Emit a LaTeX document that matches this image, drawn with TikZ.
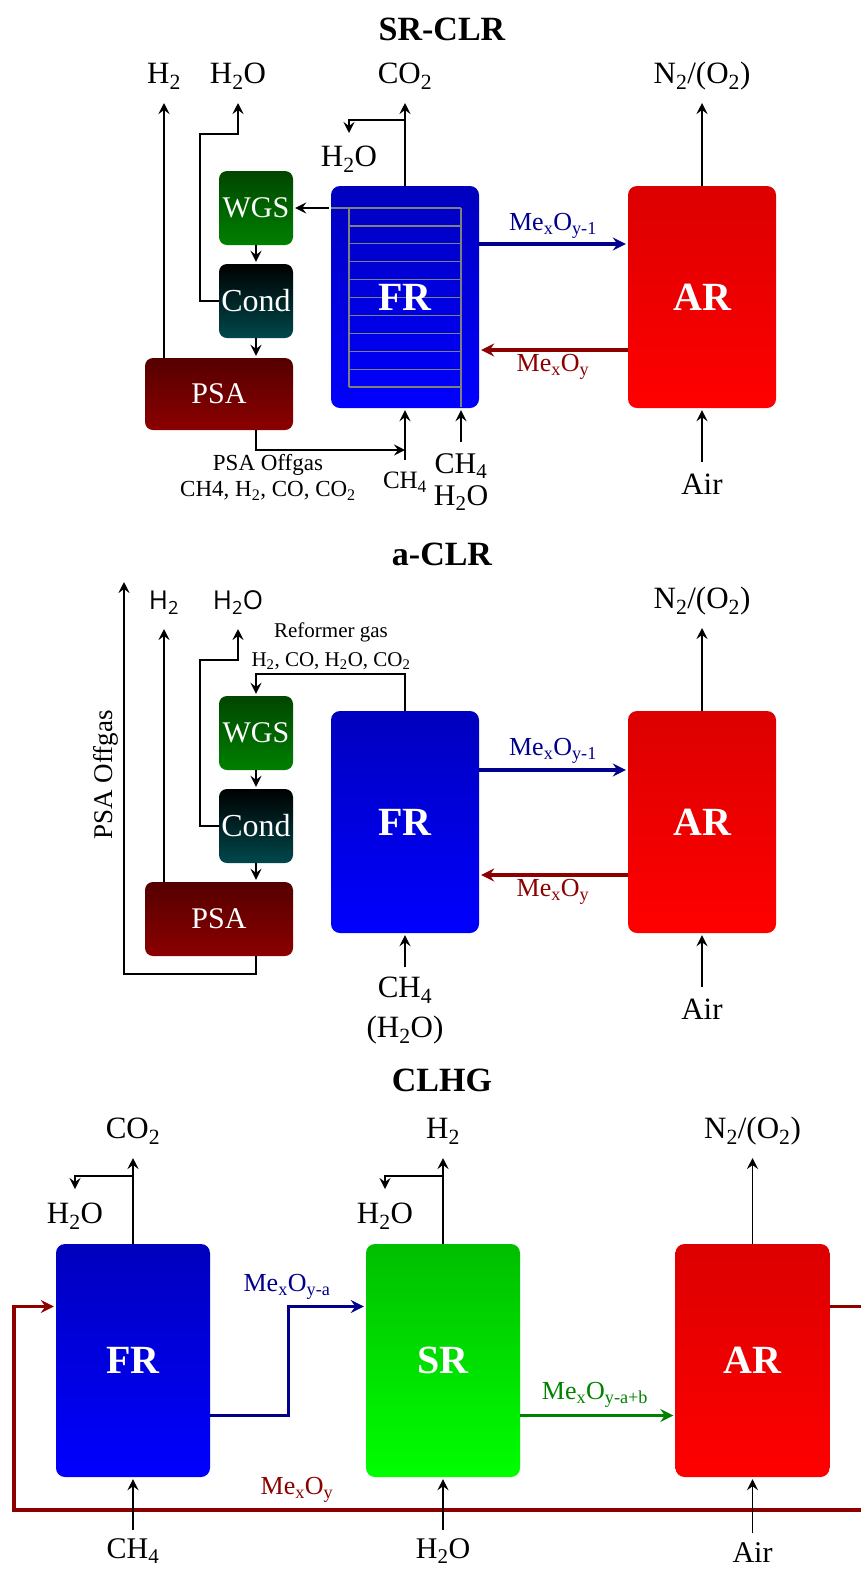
\documentclass[tikz,border=0pt]{standalone}
\usepackage{fontspec}
\setmainfont{Liberation Serif}
\newfontfamily\labelsans{Open Sans}
\usetikzlibrary{arrows.meta}

\begin{document}
\begin{tikzpicture}[
  x=1pt,
  y=-1pt,
  >={Stealth[length=11pt,width=11pt,inset=4pt]},
  unitbox/.style={
    rounded corners=8pt,
    draw=none,
    inner sep=0pt,
    text=white,
    font=\fontsize{30}{34}\selectfont
  },
  reactor/.style={
    rounded corners=9pt,
    draw=none,
    inner sep=0pt,
    minimum width=148pt,
    minimum height=222pt
  },
  widereactor/.style={
    reactor,
    minimum width=154pt,
    minimum height=233pt
  },
  reactortext/.style={
    text=white,
    inner sep=0pt,
    font=\bfseries\fontsize{40}{44}\selectfont
  },
  title/.style={font=\bfseries\fontsize{34}{38}\selectfont,inner sep=0pt},
  gasout/.style={
    anchor=south,
    font=\fontsize{31}{36}\selectfont,
    text depth=6pt,
    inner ysep=11pt,
    inner xsep=0pt
  },
  gasin/.style={
    anchor=north,
    font=\fontsize{31}{36}\selectfont,
    align=center,
    inner ysep=10pt,
    inner xsep=0pt
  },
  gasbottom/.style={
    gasin,
    font=\fontsize{30}{34}\selectfont,
    inner ysep=0pt
  },
  note/.style={font=\fontsize{23}{26}\selectfont,inner sep=0pt},
  smallnote/.style={note,font=\fontsize{21}{26}\selectfont},
  metal/.style={font=\fontsize{26}{28}\selectfont,inner sep=0pt},
  flow/.style={->,line width=1.8pt,draw=black,shorten >=2pt},
  metalflow/.style={
    flow,
    >={Stealth[length=13pt,width=13pt,inset=4.5pt]},
    line width=3.4pt
  },
  blueflow/.style={metalflow,draw=metalblue},
  redflow/.style={metalflow,draw=metalred},
  greenflow/.style={metalflow,draw=metalgreen},
  trayline/.style={draw=gray,line width=1.2pt}
]
  \definecolor{metalblue}{RGB}{0,0,140}
  \definecolor{metalred}{RGB}{140,0,0}
  \definecolor{metalgreen}{RGB}{0,130,0}
  \tikzset{
    wgsfill/.style={top color={rgb,255:red,0;green,70;blue,0},bottom color={rgb,255:red,0;green,128;blue,0}},
    condfill/.style={top color=black,bottom color={rgb,255:red,0;green,72;blue,76}},
    psafill/.style={top color={rgb,255:red,85;green,0;blue,0},bottom color={rgb,255:red,140;green,0;blue,0}},
    frfill/.style={top color={rgb,255:red,0;green,0;blue,190},bottom color={rgb,255:red,0;green,0;blue,255}},
    srfill/.style={top color={rgb,255:red,0;green,190;blue,0},bottom color={rgb,255:red,0;green,255;blue,0}},
    arfill/.style={top color={rgb,255:red,220;green,0;blue,0},bottom color={rgb,255:red,255;green,0;blue,0}}
  }
  \path[use as bounding box,clip] (0,0) rectangle (861,1569);

  % SR-CLR.
  \node[title] (titlea) at (442,29) {SR-CLR};
  \node[unitbox,wgsfill,minimum width=74pt,minimum height=74pt] (wgsa) at (256,208) {WGS};
  \node[unitbox,condfill,minimum width=74pt,minimum height=74pt,font=\fontsize{32}{36}\selectfont] (conda) at (256,301) {Cond};
  \node[unitbox,psafill,minimum width=148pt,minimum height=72pt] (psaa) at (219,394) {PSA};
  \node[reactor,frfill] (fra) at (405,297) {};
  \node[reactor,arfill] (ara) at (702,297) {};

  \foreach \trayy in {208,225.9,243.8,261.7,279.6,297.5,315.4,333.3,351.2,369.1,387}
    \draw[trayline] (349,\trayy) -- (461,\trayy);
  \draw[trayline] (fra.west |- 0,208) -- (349,208) -- (349,387);
  \draw[trayline] (461,208) -- (461,407);

  \node[reactortext] (fratext) at (fra.center) {FR};
  \node[reactortext] (aratext) at (ara.center) {AR};

  \node[gasout] (h2a) at (164,101) {H\textsubscript{2}};
  \node[gasout] (h2oa) at (238,101) {H\textsubscript{2}O};
  \node[gasout] (co2a) at (405,101) {CO\textsubscript{2}};
  \node[gasout] (n2a) at (702,101) {N\textsubscript{2}/(O\textsubscript{2})};
  \node[gasin,inner ysep=11pt] (h2ofra) at (349,135) {H\textsubscript{2}O};
  \node[gasin,font=\fontsize{25}{28}\selectfont,inner ysep=12pt] (ch4ina) at (405,460) {CH\textsubscript{4}};
  \node[gasin,font=\fontsize{30}{32}\selectfont,inner ysep=11pt] (ch4inb) at (461,442) {CH\textsubscript{4}\\H\textsubscript{2}O};
  \node[gasin,inner ysep=12pt] (aira) at (702,462) {Air};
  \node[note] (offgasa) at (268,465) {PSA Offgas};
  \node[note] (offgasb) at (268,491) {CH4, H\textsubscript{2}, CO, CO\textsubscript{2}};
  \node[metal,text=metalblue] (mexa) at (553,226) {Me\textsubscript{x}O\textsubscript{y-1}};
  \node[metal,text=metalred] (mexb) at (553,367) {Me\textsubscript{x}O\textsubscript{y}};
  \coordinate (co2splita) at (405,120);
  \coordinate (offgasjoina) at (405,450);

  \draw[flow] (fra.north) -- (co2a.south);
  \draw[flow] (co2splita) -| (h2ofra.north);
  \draw[flow,shorten <=2pt] (fra.west |- wgsa.east) -- (wgsa.east);
  \draw[flow] (wgsa.south) -- (conda.north);
  \draw[flow] (conda.south) -- (conda.south |- psaa.north);
  \draw[flow] (h2a.south |- psaa.north) -- (h2a.south);
  \draw[flow] (conda.west) -- ++(-19,0) -- ++(0,-167) -| (h2oa.south);
  \draw[flow,shorten >=0pt] (conda.south |- psaa.south) |- (offgasjoina);
  \draw[flow] (ch4ina.north) -- (fra.south);
  \draw[flow] (ch4inb.north) -- (ch4inb.north |- fra.south);
  \draw[flow] (ara.north) -- (n2a.south);
  \draw[flow] (aira.north) -- (ara.south);
  \draw[blueflow] ([yshift=53pt]fra.east) -- ([yshift=53pt]ara.west);
  \draw[redflow] ([yshift=-53pt]ara.west) -- ([yshift=-53pt]fra.east);

  % a-CLR.
  \node[title] (titleb) at (442,554) {a-CLR};
  \node[unitbox,wgsfill,minimum width=74pt,minimum height=74pt] (wgsb) at (256,733) {WGS};
  \node[unitbox,condfill,minimum width=74pt,minimum height=74pt,font=\fontsize{32}{36}\selectfont] (condb) at (256,826) {Cond};
  \node[unitbox,psafill,minimum width=148pt,minimum height=74pt] (psab) at (219,919) {PSA};
  \node[reactor,frfill] (frb) at (405,822) {};
  \node[reactor,arfill] (arb) at (702,822) {};
  \node[reactortext] (frbtext) at (frb.center) {FR};
  \node[reactortext] (arbtext) at (arb.center) {AR};

  \node[gasout,font=\labelsans\fontsize{26}{30}\selectfont] (h2b) at (164,627) {H\textsubscript{2}};
  \node[gasout,font=\labelsans\fontsize{26}{30}\selectfont] (h2ob) at (238,627) {H\textsubscript{2}O};
  \node[gasout] (n2b) at (702,626) {N\textsubscript{2}/(O\textsubscript{2})};
  \node[gasin] (ch4inc) at (405,967) {CH\textsubscript{4}\\[4pt](H\textsubscript{2}O)};
  \node[gasin,inner ysep=12pt] (airb) at (702,987) {Air};
  \node[smallnote] (reformera) at (331,632) {Reformer gas};
  \node[smallnote] (reformerb) at (331,661) {H\textsubscript{2}, CO, H\textsubscript{2}O, CO\textsubscript{2}};
  \node[font=\fontsize{27}{30}\selectfont,inner sep=0pt,rotate=90] (offgasc) at (106,775) {PSA Offgas};
  \node[metal,text=metalblue] (mexc) at (553,751) {Me\textsubscript{x}O\textsubscript{y-1}};
  \node[metal,text=metalred] (mexd) at (553,892) {Me\textsubscript{x}O\textsubscript{y}};
  \coordinate (offgastop) at (124,580);

  \draw[flow] (frb.north) -- ++(0,-37) -| (wgsb.north);
  \draw[flow] (wgsb.south) -- (condb.north);
  \draw[flow] (condb.south) -- (condb.south |- psab.north);
  \draw[flow] (h2b.south |- psab.north) -- (h2b.south);
  \draw[flow] (condb.west) -- ++(-19,0) -- ++(0,-166) -| (h2ob.south);
  \draw[flow] (condb.south |- psab.south) -- ++(0,18) -| (offgastop);
  \draw[flow] (ch4inc.north) -- (frb.south);
  \draw[flow] (arb.north) -- (n2b.south);
  \draw[flow] (airb.north) -- (arb.south);
  \draw[blueflow] ([yshift=52pt]frb.east) -- ([yshift=52pt]arb.west);
  \draw[redflow] ([yshift=-53pt]arb.west) -- ([yshift=-53pt]frb.east);

  % CLHG.
  \node[title] (titlec) at (442,1080) {CLHG};
  \node[widereactor,frfill] (frc) at (133,1360.5) {};
  \node[widereactor,srfill] (src) at (443,1360.5) {};
  \node[widereactor,arfill] (arc) at (752.5,1360.5) {};
  \node[reactortext] (frctext) at (frc.center) {FR};
  \node[reactortext] (srctext) at (src.center) {SR};
  \node[reactortext] (arctext) at (arc.center) {AR};

  \node[gasout] (co2c) at (133,1156) {CO\textsubscript{2}};
  \node[gasout] (h2c) at (443,1156) {H\textsubscript{2}};
  \node[gasout] (n2c) at (752.5,1156) {N\textsubscript{2}/(O\textsubscript{2})};
  \node[gasin,inner ysep=12pt] (h2ofrc) at (75,1191) {H\textsubscript{2}O};
  \node[gasin,inner ysep=12pt] (h2osrc) at (385,1191) {H\textsubscript{2}O};
  \node[gasbottom] (ch4c) at (133,1538) {CH\textsubscript{4}};
  \node[gasbottom] (h2oc) at (443,1538) {H\textsubscript{2}O};
  \node[gasbottom] (airc) at (752.5,1542) {Air};
  \node[metal,text=metalblue] (mexe) at (287,1287) {Me\textsubscript{x}O\textsubscript{y-a}};
  \node[metal,text=metalgreen] (mexf) at (595,1395) {Me\textsubscript{x}O\textsubscript{y-a+b}};
  \node[metal,text=metalred] (mexg) at (297,1490) {Me\textsubscript{x}O\textsubscript{y}};
  \coordinate (co2splitc) at (133,1176);
  \coordinate (h2splitc) at (443,1176);
  \coordinate (redcorner) at (14,1510);

  % The oxide return leaves the page on the right.
  \draw[redflow] ([yshift=54pt]arc.east) -- ++(45,0) |- (redcorner) |- ([yshift=54pt]frc.west);
  \draw[blueflow] ([yshift=-55pt]frc.east) -- ++(78,0) |- ([yshift=54pt]src.west);
  \draw[greenflow] ([yshift=-55pt]src.east) -- ([yshift=-55pt]arc.west);

  \draw[flow] (frc.north) -- (co2c.south);
  \draw[flow] (src.north) -- (h2c.south);
  \draw[flow] (arc.north) -- (n2c.south);
  \draw[flow] (co2splitc) -| (h2ofrc.north);
  \draw[flow] (h2splitc) -| (h2osrc.north);
  \draw[flow] ([yshift=8pt]ch4c.north) -- (frc.south);
  \draw[flow] ([yshift=8pt]h2oc.north) -- (src.south);
  \draw[flow] ([yshift=9pt]airc.north) -- (arc.south);
\end{tikzpicture}
\end{document}
